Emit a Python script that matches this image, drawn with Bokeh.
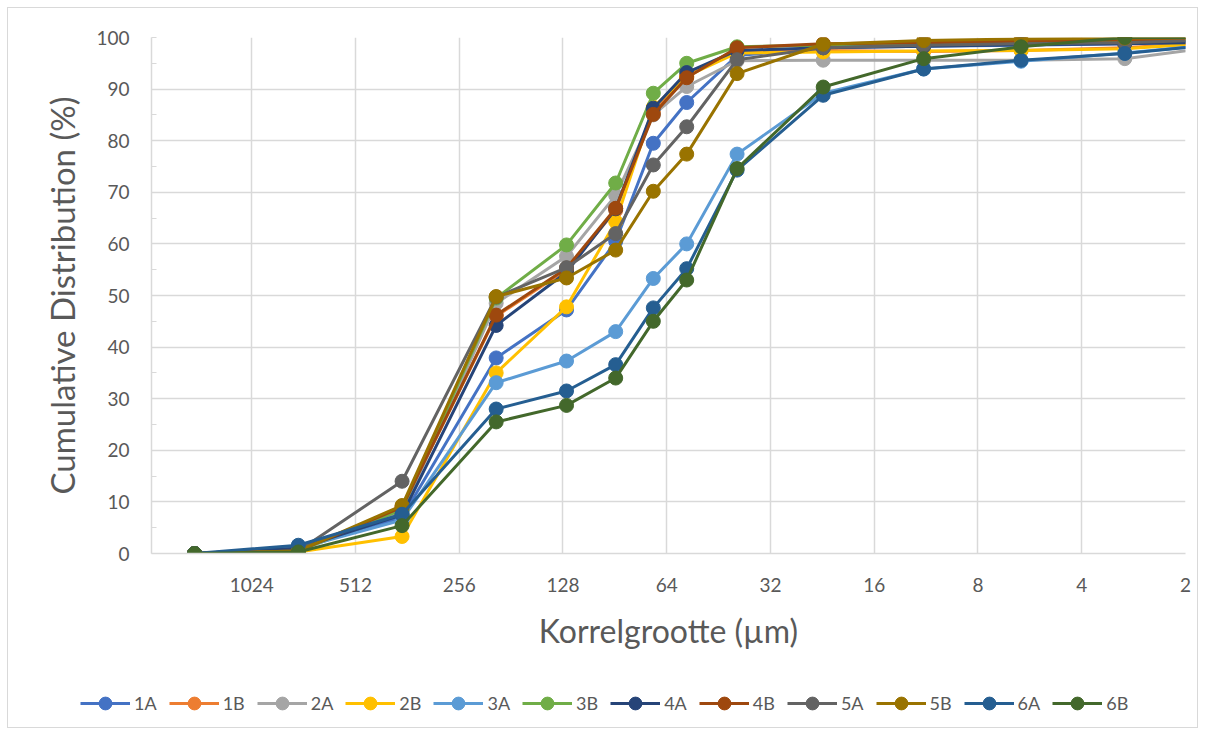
from bokeh.plotting import figure
from bokeh.models import Range1d, FixedTicker, Legend, LegendItem, ColumnDataSource
from bokeh.layouts import column
from bokeh.embed import file_html
from bokeh.resources import INLINE

# grain size (µm)
sizes = [1500, 750, 375, 200, 125, 90, 70, 56, 40, 22.5, 11.5, 6, 3, 1]

s_1A = [0, 1.0, 7.0, 37.9, 47.2, 60.5, 79.5, 87.4, 96.5, 98.0, 98.3, 98.5, 98.8, 100]
s_1B = [0, 0.5, 9.0, 46.0, 55.0, 66.5, 85.5, 92.5, 97.5, 97.5, 97.3, 97.5, 98.0, 100]
s_2A = [0, 0.5, 8.0, 48.5, 57.6, 69.4, 85.0, 90.5, 95.5, 95.6, 95.6, 95.6, 95.9, 100]
s_2B = [0, 0.3, 3.3, 35.0, 47.8, 64.3, 86.5, 92.5, 97.0, 97.2, 97.4, 97.5, 97.8, 100]
s_3A = [0, 1.0, 6.5, 33.1, 37.3, 43.0, 53.3, 60.0, 77.4, 89.2, 93.9, 95.4, 97.0, 100]
s_3B = [0, 0.5, 8.5, 49.5, 59.8, 71.8, 89.2, 95.0, 98.2, 98.5, 98.8, 99.0, 99.3, 100]
s_4A = [0, 1.0, 7.5, 44.2, 54.5, 66.8, 86.3, 93.2, 97.5, 98.0, 98.3, 98.6, 98.8, 99.3]
s_4B = [0, 0.5, 9.0, 46.2, 55.3, 66.9, 85.1, 92.2, 98.0, 98.8, 99.0, 99.3, 99.5, 100]
s_5A = [0, 0.5, 14.0, 49.7, 55.4, 62.0, 75.3, 82.7, 95.7, 98.0, 98.5, 98.8, 99.0, 100]
s_5B = [0, 0.5, 9.3, 49.8, 53.4, 58.8, 70.2, 77.4, 93.0, 98.7, 99.4, 99.7, 99.9, 100]
s_6A = [0, 1.6, 7.6, 28.0, 31.5, 36.6, 47.6, 55.2, 74.3, 88.8, 93.9, 95.6, 96.9, 100]
s_6B = [0, 0.3, 5.4, 25.5, 28.7, 34.0, 45.0, 53.0, 74.6, 90.4, 95.9, 98.2, 100, 100]

names = ["1A", "1B", "2A", "2B", "3A", "3B", "4A", "4B", "5A", "5B", "6A", "6B"]
series = [s_1A, s_1B, s_2A, s_2B, s_3A, s_3B, s_4A, s_4B, s_5A, s_5B, s_6A, s_6B]
colors = ["#4472C4", "#ED7D31", "#A5A5A5", "#FFC000", "#5B9BD5", "#70AD47",
          "#264478", "#9E480E", "#636363", "#997300", "#255E91", "#43682B"]

x_ticks = [1024, 512, 256, 128, 64, 32, 16, 8, 4, 2]
y_ticks = [0, 10, 20, 30, 40, 50, 60, 70, 80, 90, 100]

FONT = "Lato"
TXT = "#595959"
GRID = "#d9d9d9"

p = figure(width=1205, height=663, x_axis_type="log",
           x_range=Range1d(2000, 2), y_range=Range1d(0, 100),
           output_backend="svg", toolbar_location=None,
           min_border_left=151, min_border_right=20,
           min_border_top=37, min_border_bottom=110)
p.outline_line_color = None
p.background_fill_alpha = 0
p.border_fill_alpha = 0

p.xaxis.ticker = FixedTicker(ticks=x_ticks, minor_ticks=[])
p.xaxis.major_label_overrides = {t: str(t) for t in x_ticks}
p.yaxis.ticker = FixedTicker(ticks=y_ticks, minor_ticks=[5, 15, 25, 35, 45, 55, 65, 75, 85, 95])

for ax in (p.xaxis[0], p.yaxis[0]):
    ax.axis_line_color = GRID
    ax.axis_line_width = 1.5
    ax.major_tick_line_color = GRID
    ax.minor_tick_line_color = GRID
    ax.major_label_text_font = FONT
    ax.major_label_text_color = TXT
    ax.major_label_text_font_size = "19px"
    ax.axis_label_text_font = FONT
    ax.axis_label_text_color = TXT
    ax.axis_label_text_font_style = "normal"
    ax.axis_label_text_font_size = "32px"

p.yaxis.axis_label_text_font_size = "33px"

p.xaxis.major_tick_in = 0
p.xaxis.major_tick_out = 0
p.xaxis.minor_tick_in = 0
p.xaxis.minor_tick_out = 0
p.xaxis.major_label_standoff = 24
p.xaxis.axis_label = "Korrelgrootte (µm)"
p.xaxis.axis_label_standoff = 16

p.yaxis.major_tick_in = 5
p.yaxis.major_tick_out = 0
p.yaxis.minor_tick_in = 5
p.yaxis.minor_tick_out = 0
p.yaxis.major_label_standoff = 22
p.yaxis.axis_label = "Cumulative Distribution (%)"
p.yaxis.axis_label_standoff = 11

p.xgrid.grid_line_color = GRID
p.xgrid.grid_line_width = 1.5
p.ygrid.grid_line_color = GRID
p.ygrid.grid_line_width = 1.5

# legend strip below the chart
lf = figure(width=1205, height=72, x_range=Range1d(0, 1), y_range=Range1d(0, 1),
            output_backend="svg", toolbar_location=None,
            x_axis_location=None, y_axis_location=None,
            min_border_left=0, min_border_right=0, min_border_top=0, min_border_bottom=0)
lf.frame_align = False
lf.outline_line_color = None
lf.background_fill_alpha = 0
lf.border_fill_alpha = 0
lf.xgrid.visible = False
lf.ygrid.visible = False

items = []
for name, vals, col in zip(names, series, colors):
    src = ColumnDataSource(dict(x=sizes, y=vals))
    p.line("x", "y", source=src, line_color=col, line_width=3)
    p.scatter("x", "y", source=src, size=14, fill_color=col, line_color=col, line_width=1)
    # legend-only renderers, their data lies outside the strip's ranges
    dsrc = ColumnDataSource(dict(x=[-5, -4], y=[-5, -5]))
    ln = lf.line("x", "y", source=dsrc, line_color=col, line_width=3)
    sc = lf.scatter("x", "y", source=dsrc, size=14, fill_color=col, line_color=col, line_width=1)
    items.append(LegendItem(label=name, renderers=[ln, sc]))

legend = Legend(items=items, orientation="horizontal", location=(80, 16),
                glyph_width=50, glyph_height=32, label_height=32,
                label_standoff=4, spacing=12,
                padding=0, margin=0, border_line_color=None, background_fill_alpha=0,
                label_text_font=FONT, label_text_font_size="18px", label_text_color=TXT)
lf.add_layout(legend, "center")

layout = column(p, lf, spacing=0,
                styles={"background-color": "white",
                        "outline": "1px solid #d9d9d9", "outline-offset": "-8px"})

open("out.html", "w").write(file_html(layout, INLINE))
